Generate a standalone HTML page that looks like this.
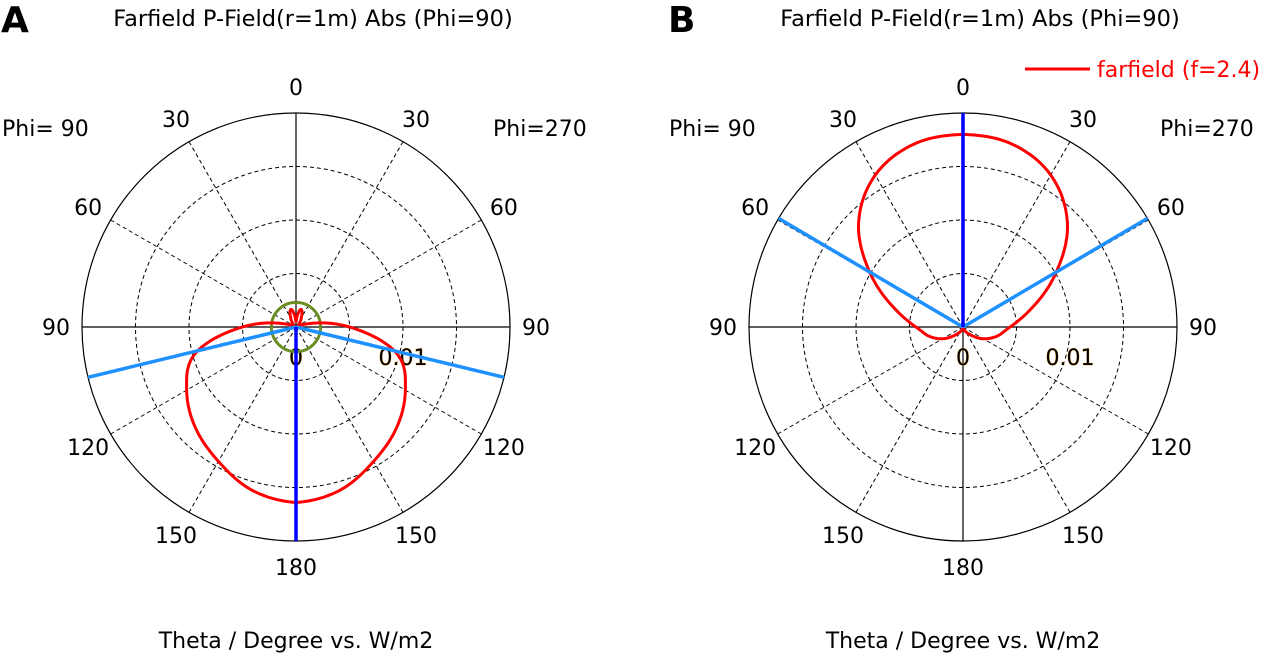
<!DOCTYPE html>
<html><head><meta charset="utf-8"><style>
body{margin:0;background:#fff;width:1280px;height:658px;overflow:hidden}
svg text{font-family:"DejaVu Sans","Liberation Sans",sans-serif;}
</style></head><body>
<svg id="svg" width="1280" height="658" xmlns="http://www.w3.org/2000/svg"></svg>
<script>
const thetaDeg = [0,15,30,45,60,75,90,105,120,135,150,165,180];
const farfieldA = [0.0005,0.0017,0.0010,0.0004,0.0003,0.0012,0.0050,0.0098,0.0118,0.0133,0.0145,0.0158,0.0164];
const farfieldB = [0.0180,0.0177,0.0164,0.0138,0.0100,0.0066,0.0044,0.0033,0.0022,0.0011,0.0005,0.0002,0.0];
const beamA = [103.6,180];
const beamB = [59.5,0];
const greenA = 0.0023;
const angleLabels = [0,30,60,90,120,150,180];
const rMax = 0.02;
const NS="http://www.w3.org/2000/svg";
const svg=document.getElementById('svg');
function mk(tag,attrs,parent){const e=document.createElementNS(NS,tag);for(const k in attrs)e.setAttribute(k,attrs[k]);(parent||svg).appendChild(e);return e;}
function interp(data,th){
  const step=thetaDeg[1]-thetaDeg[0];
  let i=Math.min(Math.floor(th/step),thetaDeg.length-2);
  const t=(th-thetaDeg[i])/step;
  const g=k=>data[Math.max(0,Math.min(data.length-1,k))];
  const p0=g(i-1),p1=g(i),p2=g(i+1),p3=g(i+2);
  const v=0.5*((2*p1)+(-p0+p2)*t+(2*p0-5*p1+4*p2-p3)*t*t+(-p0+3*p1-3*p2+p3)*t*t*t);
  return Math.max(0,v);
}
function chart(cx,cy,R,data,beams,green,prefix,letter){
  const g=mk('g',{});
  
  
  const rs=v=>v/rMax*R;
  const pt=(th,v,side)=>{const a=th*Math.PI/180;return [cx+side*rs(v)*Math.sin(a),cy-rs(v)*Math.cos(a)];};
  for(let i=1;i<=3;i++){const c=mk('circle',{cx,cy,r:R*i/4,fill:'none',stroke:'#000','stroke-width':1,'stroke-dasharray':'4,3'},g);
    }
  for(let a=30;a<180;a+=30){if(a===90)continue;for(const s of[-1,1]){const p=pt(a,rMax,s);
    const l=mk('line',{x1:p[0],y1:p[1],x2:cx,y2:cy,stroke:'#000','stroke-width':1,'stroke-dasharray':'4,3'},g);
    }}
  const o=mk('circle',{cx,cy,r:R,fill:'none',stroke:'#000','stroke-width':1.2},g);
  
  const h=mk('line',{x1:cx-R,y1:cy,x2:cx+R,y2:cy,stroke:'#000','stroke-width':1.2},g);
  
  const vv=mk('line',{x1:cx,y1:cy-R,x2:cx,y2:cy+R,stroke:'#000','stroke-width':1.2},g);
  
  const LR=R+26;
  angleLabels.forEach(a=>{for(const s of (a===0||a===180?[1]:[-1,1])){const p=pt(a,rMax*LR/R,s);
    const t=mk('text',{x:p[0],y:p[1]+8,'font-size':22,'text-anchor':'middle',fill:'#000'},g);t.textContent=a;
    }});
  [[0,'0'],[0.01,'0.01']].forEach(([v,s])=>{const t=mk('text',{x:cx+rs(v),y:cy+38,'font-size':22,'text-anchor':'middle',fill:'#000',stroke:'#f0a020','stroke-width':0.6,'paint-order':'stroke'},g);t.textContent=s;
    });
  if(green){const c=mk('circle',{cx,cy,r:rs(green),fill:'none',stroke:'#6b8e23','stroke-width':3},g);
    }
  const pts=[];
  for(let th=0;th<=180;th+=1)pts.push(pt(th,interp(data,th),1));
  for(let th=180;th>=0;th-=1)pts.push(pt(th,interp(data,th),-1));
  const d='M'+pts.map(p=>p[0].toFixed(1)+','+p[1].toFixed(1)).join(' L')+' Z';
  const rc=mk('path',{d,fill:'none',stroke:'#ff0000','stroke-width':3,'stroke-linejoin':'round'},g);
  
  beams.forEach(b=>{const cols=b===0||b===180?'#0000ff':'#1e90ff';for(const s of (b===0||b===180?[1]:[-1,1])){const p=pt(b,rMax,s);
    const l=mk('line',{x1:cx,y1:cy,x2:p[0],y2:p[1],stroke:cols,'stroke-width':3.5},g);
    }});
  const t1=mk('text',{x:cx+17,y:26,'font-size':22.5,'text-anchor':'middle'},g);t1.textContent='Farfield P-Field(r=1m) Abs (Phi=90)';
  
  const t2=mk('text',{x:cx,y:648,'font-size':22,'text-anchor':'middle'},g);t2.textContent='Theta / Degree vs. W/m2';
  
  const t3=mk('text',{x:cx-294,y:136,'font-size':22},g);t3.textContent='Phi= 90';
  
  const t4=mk('text',{x:cx+197,y:136,'font-size':22},g);t4.textContent='Phi=270';
  
  const t5=mk('text',{x:cx-295,y:32,'font-size':36,'font-weight':'bold'},g);t5.textContent=letter;
  
}
chart(296,327,214,farfieldA,beamA,greenA,'panel-a','A');
chart(963,327,214,farfieldB,beamB,0,'panel-b','B');
const lg=mk('g',{});


mk('line',{x1:1025,y1:69,x2:1090,y2:69,stroke:'#ff0000','stroke-width':3},lg);
const lt=mk('text',{x:1097,y:77,'font-size':22,fill:'#ff0000'},lg);lt.textContent='farfield (f=2.4)';
</script>
</body></html>
